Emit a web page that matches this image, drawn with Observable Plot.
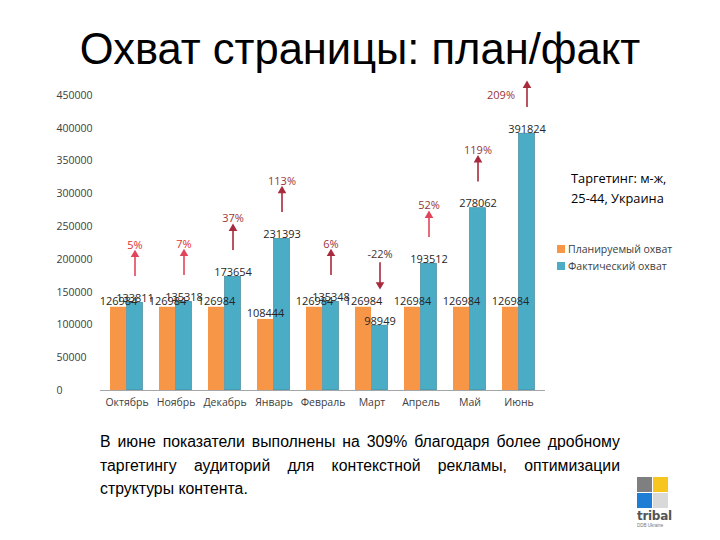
<!DOCTYPE html>
<html>
<head>
<meta charset="utf-8">
<script src="https://cdn.jsdelivr.net/npm/d3@7"></script>
<script src="https://cdn.jsdelivr.net/npm/@observablehq/plot@0.6"></script>
<style>
  html, body { margin: 0; padding: 0; background: #fff; }
  #page { position: relative; width: 720px; height: 540px; overflow: hidden; background: #fff; font-family: "Liberation Sans", Arial, sans-serif; }
  #title { position: absolute; left: 0; top: 23px; width: 720px; text-align: center; font-size: 43.5px; color: #000; line-height: 52px; z-index: 2; }
  #chart { position: absolute; left: 0; top: 0; z-index: 1; }
  #targeting { position: absolute; left: 571px; top: 168px; font-family: "Open Sans", sans-serif; font-size: 12.8px; line-height: 20px; color: #000; z-index: 2; }
  #legend { position: absolute; left: 557px; top: 240px; font-family: "Open Sans", sans-serif; font-size: 10.5px; color: #404040; z-index: 2; }
  #legend .item { display: flex; align-items: center; height: 17px; }
  #legend .sw { width: 8px; height: 8px; margin-right: 3px; }
  #note { position: absolute; left: 100px; top: 430px; width: 520px; font-size: 15.8px; line-height: 23.5px; text-align: justify; color: #000; z-index: 2; }
  #logo { position: absolute; left: 637px; top: 477px; width: 31px; z-index: 2; }
  #logo .grid { display: grid; grid-template-columns: 15px 15px; grid-template-rows: 15px 15px; gap: 1px; }
  #logo .t { font-family: "DejaVu Sans", sans-serif; font-weight: bold; font-size: 12px; color: #555; line-height: 13px; margin-top: 2px; letter-spacing: -0.3px; }
  #logo .s { font-size: 4.5px; color: #777; line-height: 5px; }
</style>
</head>
<body>
<div id="page">
  <div id="title">Охват страницы: план/факт</div>
  <div id="chart"></div>
  <div id="targeting">Таргетинг: м-ж,<br>25-44, Украина</div>
  <div id="legend"></div>
  <div id="note">В июне показатели выполнены на 309% благодаря более дробному таргетингу аудиторий для контекстной рекламы, оптимизации структуры контента.</div>
  <div id="logo">
    <div class="grid">
      <div style="background:#7f7f7f"></div>
      <div style="background:#f6c61e"></div>
      <div style="background:#1e7ed6"></div>
      <div style="background:#d9d9d9"></div>
    </div>
    <div class="t">tribal</div>
    <div class="s">DDB Ukraine</div>
  </div>
</div>
<script>
const months = ["Октябрь", "Ноябрь", "Декабрь", "Январь", "Февраль", "Март", "Апрель", "Май", "Июнь"];
const plan = [126984, 126984, 126984, 108444, 126984, 126984, 126984, 126984, 126984];
const fact = [133811, 135318, 173654, 231393, 135348, 98949, 193512, 278062, 391824];
const pct = [5, 7, 37, 113, 6, -22, 52, 119, 209];
const yTicks = [0, 50000, 100000, 150000, 200000, 250000, 300000, 350000, 400000, 450000];
const seriesNames = ["Планируемый охват", "Фактический охват"];

const colorPlan = "#f79646";
const colorFact = "#4bacc6";

const data = months.map((m, i) => {
  const base = Math.max(plan[i], fact[i]);
  const up = pct[i] >= 0;
  return {
    month: m, i, plan: plan[i], fact: fact[i], pct: pct[i], up,
    yStart: up ? base + 40000 : base + 68000,
    yTip: up ? base + 75000 : base + 33000,
    yLabel: up ? base + 75000 : base + 68000,
    yMid: base + 57500
  };
});
const upData = data.filter(d => d.up);
const downData = data.filter(d => !d.up);

const brightIdx = new Set([0, 1]);
const labelColor = d => brightIdx.has(d.i) ? "#e3302f" : (d.pct < 0 ? "#4a3535" : "#9b3438");
const arrowColor = d => (brightIdx.has(d.i) || d.i === 6) ? "#e2455a" : "#a82a3c";

const font = "'Open Sans', sans-serif";

const chart = Plot.plot({
  width: 720,
  height: 420,
  marginLeft: 100,
  marginRight: 175,
  marginTop: 95,
  marginBottom: 30,
  style: { fontFamily: font, background: "transparent", overflow: "visible" },
  x: { domain: months, padding: 0 },
  y: { domain: [0, 450000] },
  marks: [
    Plot.axisY({ ticks: yTicks, tickSize: 0, tickPadding: 0, textAnchor: "start", dx: -44, tickFormat: d => String(d), fontSize: 10.5, fill: "#404040", label: null }),
    Plot.axisX({ tickSize: 0, tickPadding: 8, fontSize: 10.5, fill: "#404040", label: null }),
    Plot.barY(data, { x: "month", y: "plan", fill: colorPlan, insetLeft: 8, insetRight: 25 }),
    Plot.barY(data, { x: "month", y: "fact", fill: colorFact, stroke: "#3a7f92", strokeWidth: 0.6, insetLeft: 24.5, insetRight: 8.5 }),
    Plot.ruleY([0], { stroke: "#a6a6a6" }),
    Plot.text(data, { x: "month", y: "plan", text: d => String(d.plan), dx: -8.5, dy: -2, lineAnchor: "bottom", fontSize: 11, fill: "#262626" }),
    Plot.text(data, { x: "month", y: "fact", text: d => String(d.fact), dx: 8, dy: -1, lineAnchor: "bottom", fontSize: 11, fill: "#262626" }),
    Plot.ruleX(data, { x: "month", y1: "yStart", y2: "yTip", dx: 8, stroke: arrowColor, strokeWidth: 1.6 }),
    Plot.dot(upData, { x: "month", y: "yTip", dx: 8, dy: 1, symbol: "triangle", r: 3.2, fill: arrowColor, stroke: "none" }),
    Plot.dot(downData, { x: "month", y: "yTip", dx: 8, dy: -1, symbol: "triangle", r: 3.2, fill: arrowColor, stroke: "none", rotate: 180 }),
    Plot.text(data.filter(d => d.i < months.length - 1), { x: "month", y: "yLabel", text: d => d.pct + "%", dx: 8, dy: -5, lineAnchor: "bottom", fontSize: 11, fill: labelColor }),
    Plot.text(data.filter(d => d.i === months.length - 1), { x: "month", y: "yMid", text: d => d.pct + "%", dx: -4, textAnchor: "end", fontSize: 11, fill: labelColor })
  ]
});
document.getElementById("chart").appendChild(chart);

const legend = document.getElementById("legend");
[colorPlan, colorFact].forEach((c, k) => {
  const row = document.createElement("div");
  row.className = "item";
  row.innerHTML = `<span class="sw" style="background:${c}"></span><span>${seriesNames[k]}</span>`;
  legend.appendChild(row);
});
</script>
</body>
</html>
